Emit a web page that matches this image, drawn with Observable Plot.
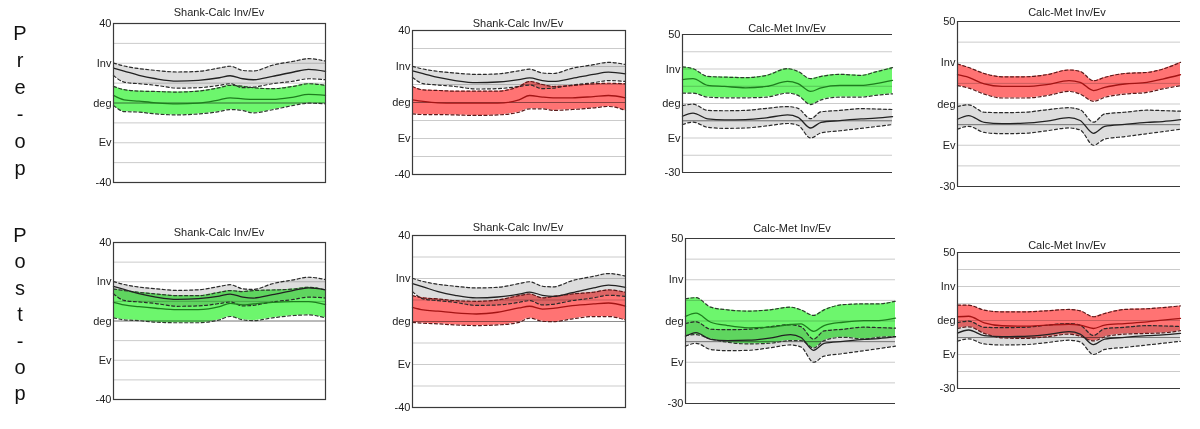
<!DOCTYPE html>
<html><head><meta charset="utf-8">
<script src="https://cdn.jsdelivr.net/npm/d3@7"></script>
<script src="https://cdn.jsdelivr.net/npm/@observablehq/plot@0.6"></script>
<style>
body{margin:0;background:#fff;width:1200px;height:429px;position:relative;overflow:hidden;font-family:"Liberation Sans",Arial,sans-serif}
.panel{position:absolute}
.panel svg{display:block;overflow:visible}
.title{position:absolute;font-size:11px;color:#222;transform:translateX(-50%);white-space:nowrap;line-height:13px}
.rowlab{position:absolute;font-size:20px;text-align:center;width:24px;color:#111}
</style></head><body>
<script>
// ---- data (percent of gait cycle, degrees) ----
const xPct = [0,5,12,20,30,40,50,55,61,66,75,85,92,100];

const scTickVals = [40,20,0,-20,-40];
const scTickLabels = ["40","Inv","deg","Ev","-40"];
const cmTickVals = [50,30,10,-10,-30];
const cmTickLabels = ["50","Inv","deg","Ev","-30"];

const titles = ["Shank-Calc Inv/Ev","Shank-Calc Inv/Ev","Calc-Met Inv/Ev","Calc-Met Inv/Ev"];
const rowLabels = ["Pre-op","Post-op"];

// normative (gray) bands
const scNormMean = [17.6,16.1,13.9,12.2,11.0,11.4,12.7,13.7,12.2,11.7,13.4,15.6,16.9,15.9];
const scNormUp   = [20.1,18.6,17.3,16.4,15.6,15.9,17.6,18.5,16.4,16.1,19.0,21.0,22.3,21.1];
const scNormLo   = [13.9,10.5,9.7,8.9,7.5,7.7,8.9,9.7,7.7,8.0,9.7,11.0,12.2,11.7];
const cmNormMean = [2.6,4.4,1.1,0.5,0.7,1.7,3.4,2.0,-4.2,-0.9,0.1,1.1,1.5,2.4];
const cmNormUp   = [8.8,9.6,6.0,5.8,6.0,7.2,8.2,7.2,1.2,5.2,6.0,7.0,6.8,6.5];
const cmNormLo   = [-2.2,-0.8,-3.8,-4.4,-4.2,-3.0,-1.6,-2.6,-10.0,-7.0,-5.8,-4.4,-3.4,-2.2];

// pre-op patients
const p1Up   = [8.4,6.7,6.0,5.8,5.5,6.0,7.7,8.9,8.4,7.7,7.2,8.4,9.7,8.9];
const p1Mean = [3.8,1.6,0.9,0.1,-0.4,-0.1,1.6,2.6,2.1,1.8,1.8,3.0,4.3,3.8];
const p1Lo   = [-1.2,-4.3,-4.6,-5.5,-6.0,-5.5,-4.3,-3.3,-3.8,-5.0,-3.4,-1.2,-0.1,-0.4];

const p2Up   = [8.9,7.0,6.7,6.3,6.3,6.3,8.9,11.7,10.0,8.9,9.4,10.4,10.7,10.4];
const p2Mean = [1.5,0.6,-0.2,-0.4,-0.4,-0.4,1.5,3.9,3.0,2.6,2.6,3.3,3.9,2.6];
const p2Lo   = [-6.3,-6.7,-6.7,-6.9,-7.2,-6.9,-5.4,-3.5,-3.5,-4.4,-3.9,-3.0,-2.2,-4.4];

const p3Up   = [31.2,30.2,25.7,25.3,25.0,26.3,30.2,28.6,24.4,25.7,26.9,26.3,28.3,30.8];
const p3Mean = [23.8,24.4,20.5,19.9,19.1,19.9,22.8,21.5,17.0,19.1,20.5,20.5,21.5,23.4];
const p3Lo   = [16.0,16.0,13.7,13.3,13.3,13.7,16.0,14.7,9.4,12.1,13.7,13.7,14.7,15.6];

const p4Up   = [29.4,27.7,24.8,23.2,23.2,24.2,26.5,25.8,21.3,22.9,24.8,25.3,26.9,30.2];
const p4Mean = [24.2,22.9,19.7,18.5,18.5,19.4,21.3,20.5,16.5,18.1,19.7,20.5,22.1,24.2];
const p4Lo   = [18.9,17.7,14.8,12.9,12.9,14.0,16.1,14.8,11.3,13.2,14.8,15.6,17.3,18.9];

// post-op patients
const p5Up   = [16.3,15.5,14.6,13.8,12.9,12.9,14.6,15.5,15.0,15.5,15.8,16.3,17.2,15.8];
const p5Mean = [9.5,8.2,7.3,6.5,5.8,5.8,7.3,9.0,8.2,8.7,9.5,9.9,9.9,8.4];
const p5Lo   = [1.6,0.6,0.2,-0.6,-0.9,-0.9,0.6,2.3,0.6,0.2,1.6,2.8,3.1,1.6];

const p6Up   = [12.0,11.0,10.5,9.7,9.4,10.0,12.0,12.8,11.0,11.6,12.8,13.6,14.7,13.6];
const p6Mean = [6.6,5.4,4.8,4.0,3.5,4.3,6.3,7.1,5.8,6.1,7.4,8.2,8.6,7.1];
const p6Lo   = [-0.4,-0.8,-1.1,-1.6,-1.9,-1.6,-0.4,1.6,0.1,-0.1,1.2,2.3,2.3,0.7];

const p7Up   = [20.8,21.3,16.7,15.4,14.8,15.4,16.7,15.4,12.7,15.4,17.9,18.3,18.3,19.6];
const p7Mean = [12.2,13.8,9.4,7.8,6.7,7.0,8.3,8.6,5.0,7.8,9.4,10.2,10.2,11.4];
const p7Lo   = [2.9,3.4,1.3,-0.3,-1.1,-0.8,0.5,0.5,-3.1,0.5,2.1,1.3,2.1,2.4];

const p8Up   = [19.0,19.0,16.1,15.1,15.1,15.7,16.5,15.7,12.2,14.1,16.5,16.9,17.6,18.6];
const p8Mean = [12.2,12.5,8.6,6.9,6.7,7.3,7.8,7.3,5.3,7.3,8.2,9.2,10.2,11.2];
const p8Lo   = [5.3,6.3,2.4,-0.2,-0.6,0.4,2.0,0.8,-2.0,0.4,2.0,2.4,2.7,4.0];

// ---- layout ----
const layout = [
  {kind:"SC", color:"green", x1:113, x2:325, y1:23,  y2:182, tx:219,  ty:12,  d:[p1Mean,p1Up,p1Lo], t:0},
  {kind:"SC", color:"red",   x1:412, x2:625, y1:30,  y2:174, tx:518,  ty:23,  d:[p2Mean,p2Up,p2Lo], t:1},
  {kind:"CM", color:"green", x1:682, x2:892, y1:34,  y2:172, tx:787,  ty:28,  d:[p3Mean,p3Up,p3Lo], t:2},
  {kind:"CM", color:"red",   x1:957, x2:1180,y1:21,  y2:186, tx:1067, ty:12,  d:[p4Mean,p4Up,p4Lo], t:3},
  {kind:"SC", color:"green", x1:113, x2:325, y1:242, y2:399, tx:219,  ty:232, d:[p5Mean,p5Up,p5Lo], t:0},
  {kind:"SC", color:"red",   x1:412, x2:625, y1:235, y2:407, tx:518,  ty:227, d:[p6Mean,p6Up,p6Lo], t:1},
  {kind:"CM", color:"green", x1:685, x2:895, y1:238, y2:403, tx:792,  ty:228, d:[p7Mean,p7Up,p7Lo], t:2},
  {kind:"CM", color:"red",   x1:957, x2:1180,y1:252, y2:388, tx:1067, ty:245, d:[p8Mean,p8Up,p8Lo], t:3}
];

function rows(mean, up, lo){
  return xPct.map((x,i)=>({x, mean:mean[i], up:up[i], lo:lo[i]}));
}

const curve = "monotone-x";
const mL = 34, mR = 3, mT = 8, mB = 8;

layout.forEach(s => {
  const isSC = s.kind === "SC";
  const dom = isSC ? [-40,40] : [-30,50];
  const tv = isSC ? scTickVals : cmTickVals;
  const tl = isSC ? scTickLabels : cmTickLabels;
  const grid = d3.range(dom[0]+10, dom[1], 10);
  const norm = isSC ? rows(scNormMean, scNormUp, scNormLo) : rows(cmNormMean, cmNormUp, cmNormLo);
  const pat = rows(s.d[0], s.d[1], s.d[2]);
  const green = s.color === "green";
  const fillC = green ? "#6df66d" : "#ff7373";
  const meanC = green ? "#1e7d1e" : "#a41414";
  const dashC = green ? "#2e3a2e" : "#5a1a1a";
  const w = s.x2 - s.x1, h = s.y2 - s.y1;

  const frameMarks = isSC
    ? [Plot.frame({stroke:"#3a3a3a", strokeWidth:1.2})]
    : [Plot.ruleY([dom[1]], {stroke:"#3a3a3a", strokeWidth:1.2}),
       Plot.ruleY([dom[0]], {stroke:"#3a3a3a", strokeWidth:1.2}),
       Plot.ruleX([0], {stroke:"#3a3a3a", strokeWidth:1.2})];

  const chart = Plot.plot({
    width: w + mL + mR, height: h + mT + mB,
    marginLeft: mL, marginRight: mR, marginTop: mT, marginBottom: mB,
    x: {domain:[0,100], axis:null},
    y: {domain: dom},
    style: {fontFamily:'"Liberation Sans", Arial, sans-serif', background:"transparent", color:"#222"},
    marks: [
      Plot.ruleY(grid, {stroke:"#cbcbcb", strokeWidth:1}),
      Plot.ruleY([0], {stroke:"#8e8e8e", strokeWidth:1}),
      Plot.areaY(norm, {x:"x", y1:"lo", y2:"up", fill:"#dddddd", curve, mixBlendMode:"multiply"}),
      Plot.areaY(pat, {x:"x", y1:"lo", y2:"up", fill:fillC, curve, mixBlendMode:"multiply"}),
      Plot.lineY(norm, {x:"x", y:"up", stroke:"#2a2a2a", strokeWidth:1.2, strokeDasharray:"3,2.5", curve}),
      Plot.lineY(norm, {x:"x", y:"lo", stroke:"#2a2a2a", strokeWidth:1.2, strokeDasharray:"3,2.5", curve}),
      Plot.lineY(pat, {x:"x", y:"up", stroke:dashC, strokeWidth:1.2, strokeDasharray:"3,2.5", curve}),
      Plot.lineY(pat, {x:"x", y:"lo", stroke:dashC, strokeWidth:1.2, strokeDasharray:"3,2.5", curve}),
      Plot.lineY(norm, {x:"x", y:"mean", stroke:"#222", strokeWidth:1.3, curve}),
      Plot.lineY(pat, {x:"x", y:"mean", stroke:meanC, strokeWidth:1.3, curve}),
      ...frameMarks,
      Plot.axisY({ticks: tv, tickFormat: d => tl[tv.indexOf(d)], tickSize:0, tickPadding:2, fontSize:11, label:null})
    ]
  });
  const div = document.createElement("div");
  div.className = "panel";
  div.style.left = (s.x1 - mL) + "px";
  div.style.top = (s.y1 - mT) + "px";
  div.appendChild(chart);
  document.body.appendChild(div);

  const t = document.createElement("div");
  t.className = "title";
  t.textContent = titles[s.t];
  t.style.left = s.tx + "px";
  t.style.top = (s.ty - 6.5) + "px";
  document.body.appendChild(t);
});

// row labels, stacked letters
[[rowLabels[0], 20, 26.9], [rowLabels[1], 222, 26.4]].forEach(([txt, top, lh]) => {
  const d = document.createElement("div");
  d.className = "rowlab";
  d.style.left = "8px";
  d.style.top = top + "px";
  d.style.lineHeight = lh + "px";
  d.innerHTML = txt.split("").map(c => `<div>${c}</div>`).join("");
  document.body.appendChild(d);
});
</script>
</body></html>
